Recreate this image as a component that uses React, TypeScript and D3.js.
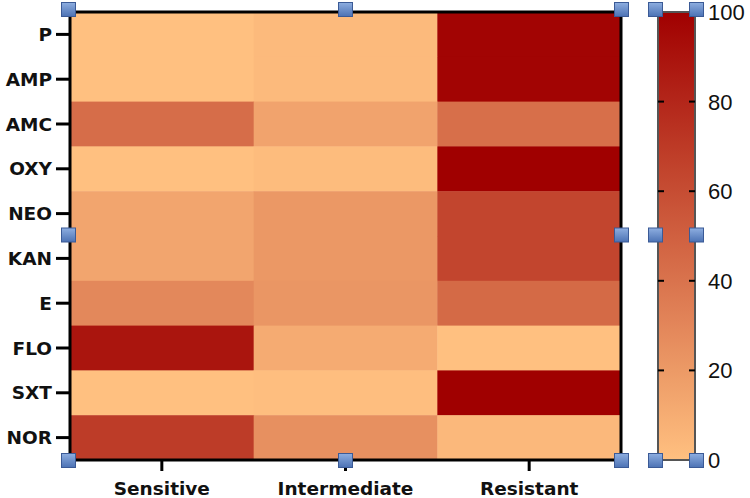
import React from "react";
import * as d3 from "d3";

const drugs = ["P", "AMP", "AMC", "OXY", "NEO", "KAN", "E", "FLO", "SXT", "NOR"];
const groups = ["Sensitive", "Intermediate", "Resistant"];
const sensitive = [0, 0, 43, 0, 14, 14, 29, 89, 0, 69];
const intermediate = [3, 3, 15, 2, 21, 21, 22, 11, 1, 25];
const resistant = [98, 98, 42, 100, 64, 64, 45, 0, 100, 4];
const scaleTicks = [0, 20, 40, 60, 80, 100];

const W = 750;
const H = 498;
const plot = { left: 70, right: 621, top: 12, bottom: 460 };
const bar = { left: 658, right: 695 };

const Handle = ({ cx, cy }: { cx: number; cy: number }) => (
  <rect
    x={cx - 7}
    y={cy - 7}
    width={14}
    height={14}
    fill="url(#hgrad)"
    stroke="#3b5a96"
    strokeWidth={1}
  />
);

export default function App() {
  const x = d3.scaleBand().domain(groups).range([plot.left, plot.right]);
  const y = d3.scaleBand().domain(drugs).range([plot.top, plot.bottom]);
  const color = d3
    .scaleLinear<string>()
    .domain([0, 100])
    .range(["#ffc080", "#a00000"])
    .interpolate(d3.interpolateRgb);
  const yBar = d3.scaleLinear().domain([0, 100]).range([plot.bottom, plot.top]);

  const series = [sensitive, intermediate, resistant];
  const cells = drugs.flatMap((d, i) =>
    groups.map((g, j) => ({ d, g, v: series[j][i] }))
  );

  const bold = "'DejaVu Sans', Verdana, sans-serif";
  const midY = (plot.top + plot.bottom) / 2 - 1;
  const midX = (plot.left + plot.right) / 2;

  return (
    <svg width={W} height={H} style={{ position: "absolute", left: 0, top: 0 }}>
      <defs>
        <linearGradient id="hgrad" x1="0" y1="0" x2="0" y2="1">
          <stop offset="0" stopColor="#8eaee0" />
          <stop offset="1" stopColor="#4c72b4" />
        </linearGradient>
        <linearGradient id="cbar" x1="0" y1="1" x2="0" y2="0">
          {d3.range(0, 101, 10).map((t) => (
            <stop key={t} offset={t / 100} stopColor={color(t)} />
          ))}
        </linearGradient>
      </defs>

      {cells.map((c) => (
        <rect
          key={c.d + c.g}
          x={x(c.g)}
          y={y(c.d)}
          width={x.bandwidth() + 0.5}
          height={y.bandwidth() + 0.5}
          fill={color(c.v)}
        />
      ))}

      <rect
        x={plot.left}
        y={plot.top}
        width={plot.right - plot.left}
        height={plot.bottom - plot.top}
        fill="none"
        stroke="#000"
        strokeWidth={3}
      />

      {drugs.map((d) => {
        const cy = (y(d) as number) + y.bandwidth() / 2;
        return (
          <g key={d}>
            <line x1={56} x2={plot.left} y1={cy} y2={cy} stroke="#000" strokeWidth={3} />
            <text
              x={52}
              y={cy}
              dy="0.36em"
              textAnchor="end"
              fontFamily={bold}
              fontWeight="bold"
              fontSize={18.5}
              fill="#111"
            >
              {d}
            </text>
          </g>
        );
      })}

      {groups.map((g) => {
        const cx = (x(g) as number) + x.bandwidth() / 2;
        return (
          <g key={g}>
            <line x1={cx} x2={cx} y1={plot.bottom} y2={471} stroke="#000" strokeWidth={3} />
            <text
              x={cx}
              y={495}
              textAnchor="middle"
              fontFamily={bold}
              fontWeight="bold"
              fontSize={18.5}
              fill="#111"
            >
              {g}
            </text>
          </g>
        );
      })}

      <rect
        x={bar.left}
        y={plot.top}
        width={bar.right - bar.left}
        height={plot.bottom - plot.top}
        fill="url(#cbar)"
        stroke="#555"
        strokeWidth={2}
      />
      {scaleTicks.map((t) => (
        <g key={t}>
          {t > 0 && t < 100 && (
            <>
              <line x1={bar.left} x2={bar.left + 6} y1={yBar(t)} y2={yBar(t)} stroke="#000" strokeWidth={2} />
              <line x1={bar.right - 6} x2={bar.right} y1={yBar(t)} y2={yBar(t)} stroke="#000" strokeWidth={2} />
            </>
          )}
          <text
            x={708}
            y={yBar(t)}
            dy="0.36em"
            fontFamily="'Liberation Sans', Arial, sans-serif"
            fontSize={22}
            fill="#111"
          >
            {t}
          </text>
        </g>
      ))}

      {[
        [68.5, 9.5], [midX, 9.5], [621.5, 9.5],
        [68.5, midY], [621.5, midY],
        [68.5, 460.5], [midX, 460.5], [621.5, 460.5],
        [655.5, 9.5], [696.5, 9.5], [655.5, midY], [696.5, midY],
        [655.5, 460.5], [696.5, 460.5],
      ].map(([cx, cy], i) => (
        <Handle key={i} cx={cx} cy={cy} />
      ))}
    </svg>
  );
}
